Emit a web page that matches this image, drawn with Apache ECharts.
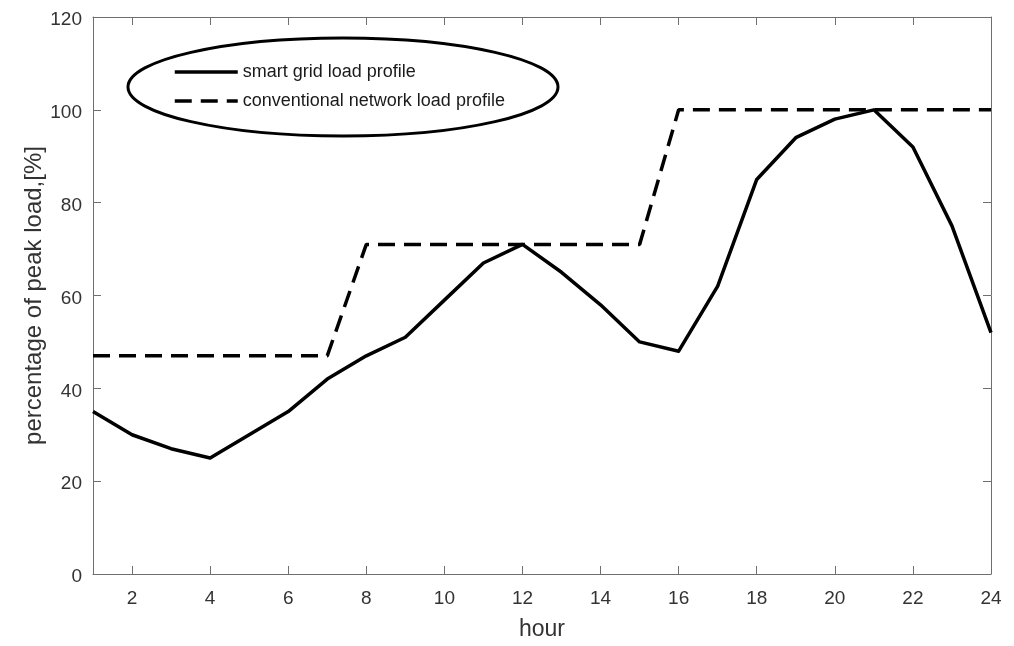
<!DOCTYPE html>
<html>
<head>
<meta charset="utf-8">
<script src="https://cdn.jsdelivr.net/npm/echarts@6/dist/echarts.min.js"></script>
<style>
  html, body { margin: 0; padding: 0; background: #ffffff; }
  #chart { width: 1014px; height: 646px; }
</style>
</head>
<body>
<div id="chart"></div>
<script>
// Hourly load, percent of daily peak
const hours = [1, 2, 3, 4, 5, 6, 7, 8, 9, 10, 11, 12, 13, 14, 15, 16, 17, 18, 19, 20, 21, 22, 23, 24];
const smartGridLoad = [35, 30, 27, 25, 30, 35, 42, 47, 51, 59, 67, 71, 65, 58, 50, 48, 62, 85, 94, 98, 100, 92, 75, 52];
const conventionalLoad = [47, 47, 47, 47, 47, 47, 47, 71, 71, 71, 71, 71, 71, 71, 71, 100, 100, 100, 100, 100, 100, 100, 100, 100];
const hourTicks = [2, 4, 6, 8, 10, 12, 14, 16, 18, 20, 22, 24];
const seriesNames = ['smart grid load profile', 'conventional network load profile'];

const FONT = '"Liberation Sans", Arial, sans-serif';
const AXIS_GRAY = '#6f6f6f';
const TEXT_GRAY = '#333333';

const toPairs = (vals) => hours.map((h, i) => [h, vals[i]]);

const xBase = {
  type: 'value', min: 1, max: 24,
  splitLine: { show: false },
  axisLine: { show: true, onZero: false, lineStyle: { color: AXIS_GRAY, width: 1 } },
  axisTick: { show: true, inside: true, length: 8, customValues: hourTicks, lineStyle: { color: AXIS_GRAY } }
};
const yBase = {
  type: 'value', min: 0, max: 120, interval: 20,
  splitLine: { show: false },
  axisLine: { show: true, onZero: false, lineStyle: { color: AXIS_GRAY, width: 1 } },
  axisTick: { show: true, inside: true, length: 8, lineStyle: { color: AXIS_GRAY } }
};

const chart = echarts.init(document.getElementById('chart'), null, { renderer: 'canvas' });
chart.setOption({
  backgroundColor: '#ffffff',
  animation: false,
  textStyle: { fontFamily: FONT },
  grid: { left: 93, right: 23, top: 17, bottom: 71, containLabel: false },
  xAxis: [
    Object.assign({}, xBase, {
      position: 'bottom',
      name: 'hour', nameLocation: 'middle', nameGap: 44, nameMoveOverlap: false,
      nameTextStyle: { fontSize: 23, color: TEXT_GRAY, fontFamily: FONT },
      axisLabel: { show: true, margin: 15, fontSize: 19, color: TEXT_GRAY, fontFamily: FONT, customValues: hourTicks }
    }),
    Object.assign({}, xBase, { position: 'top', axisLabel: { show: false } })
  ],
  yAxis: [
    Object.assign({}, yBase, {
      position: 'left',
      name: 'percentage of peak load,[%]', nameLocation: 'middle', nameGap: 47, nameRotate: 90,
      nameMoveOverlap: false,
      nameTextStyle: { fontSize: 24, color: TEXT_GRAY, fontFamily: FONT },
      axisLabel: {
        show: true, margin: 11, color: TEXT_GRAY, fontFamily: FONT,
        formatter: '{v|{value}}',
        rich: { v: { fontSize: 19, color: TEXT_GRAY, fontFamily: FONT, padding: [6, 0, 0, 0] } }
      }
    }),
    Object.assign({}, yBase, { position: 'right', axisLabel: { show: false } })
  ],
  legend: {
    orient: 'vertical', left: 168, top: 58,
    itemWidth: 63, itemHeight: 18, itemGap: 11,
    textStyle: { fontSize: 18, color: '#1a1a1a', fontFamily: FONT },
    itemStyle: { color: 'transparent', borderWidth: 0, opacity: 0 },
    lineStyle: { width: 3.5 },
    data: seriesNames
  },
  graphic: [{
    type: 'ellipse', silent: true, z: 5,
    shape: { cx: 343, cy: 87, rx: 215, ry: 49 },
    style: { fill: null, stroke: '#000000', lineWidth: 3 }
  }],
  series: [
    {
      name: seriesNames[0], type: 'line', data: toPairs(smartGridLoad),
      showSymbol: false, symbol: 'none',
      lineStyle: { color: '#000000', width: 3.5, type: 'solid', join: 'round' },
      itemStyle: { color: '#000000' }
    },
    {
      name: seriesNames[1], type: 'line', data: toPairs(conventionalLoad),
      showSymbol: false, symbol: 'none',
      lineStyle: { color: '#000000', width: 3.5, type: [17, 9] },
      itemStyle: { color: '#000000' }
    }
  ]
});
</script>
</body>
</html>
